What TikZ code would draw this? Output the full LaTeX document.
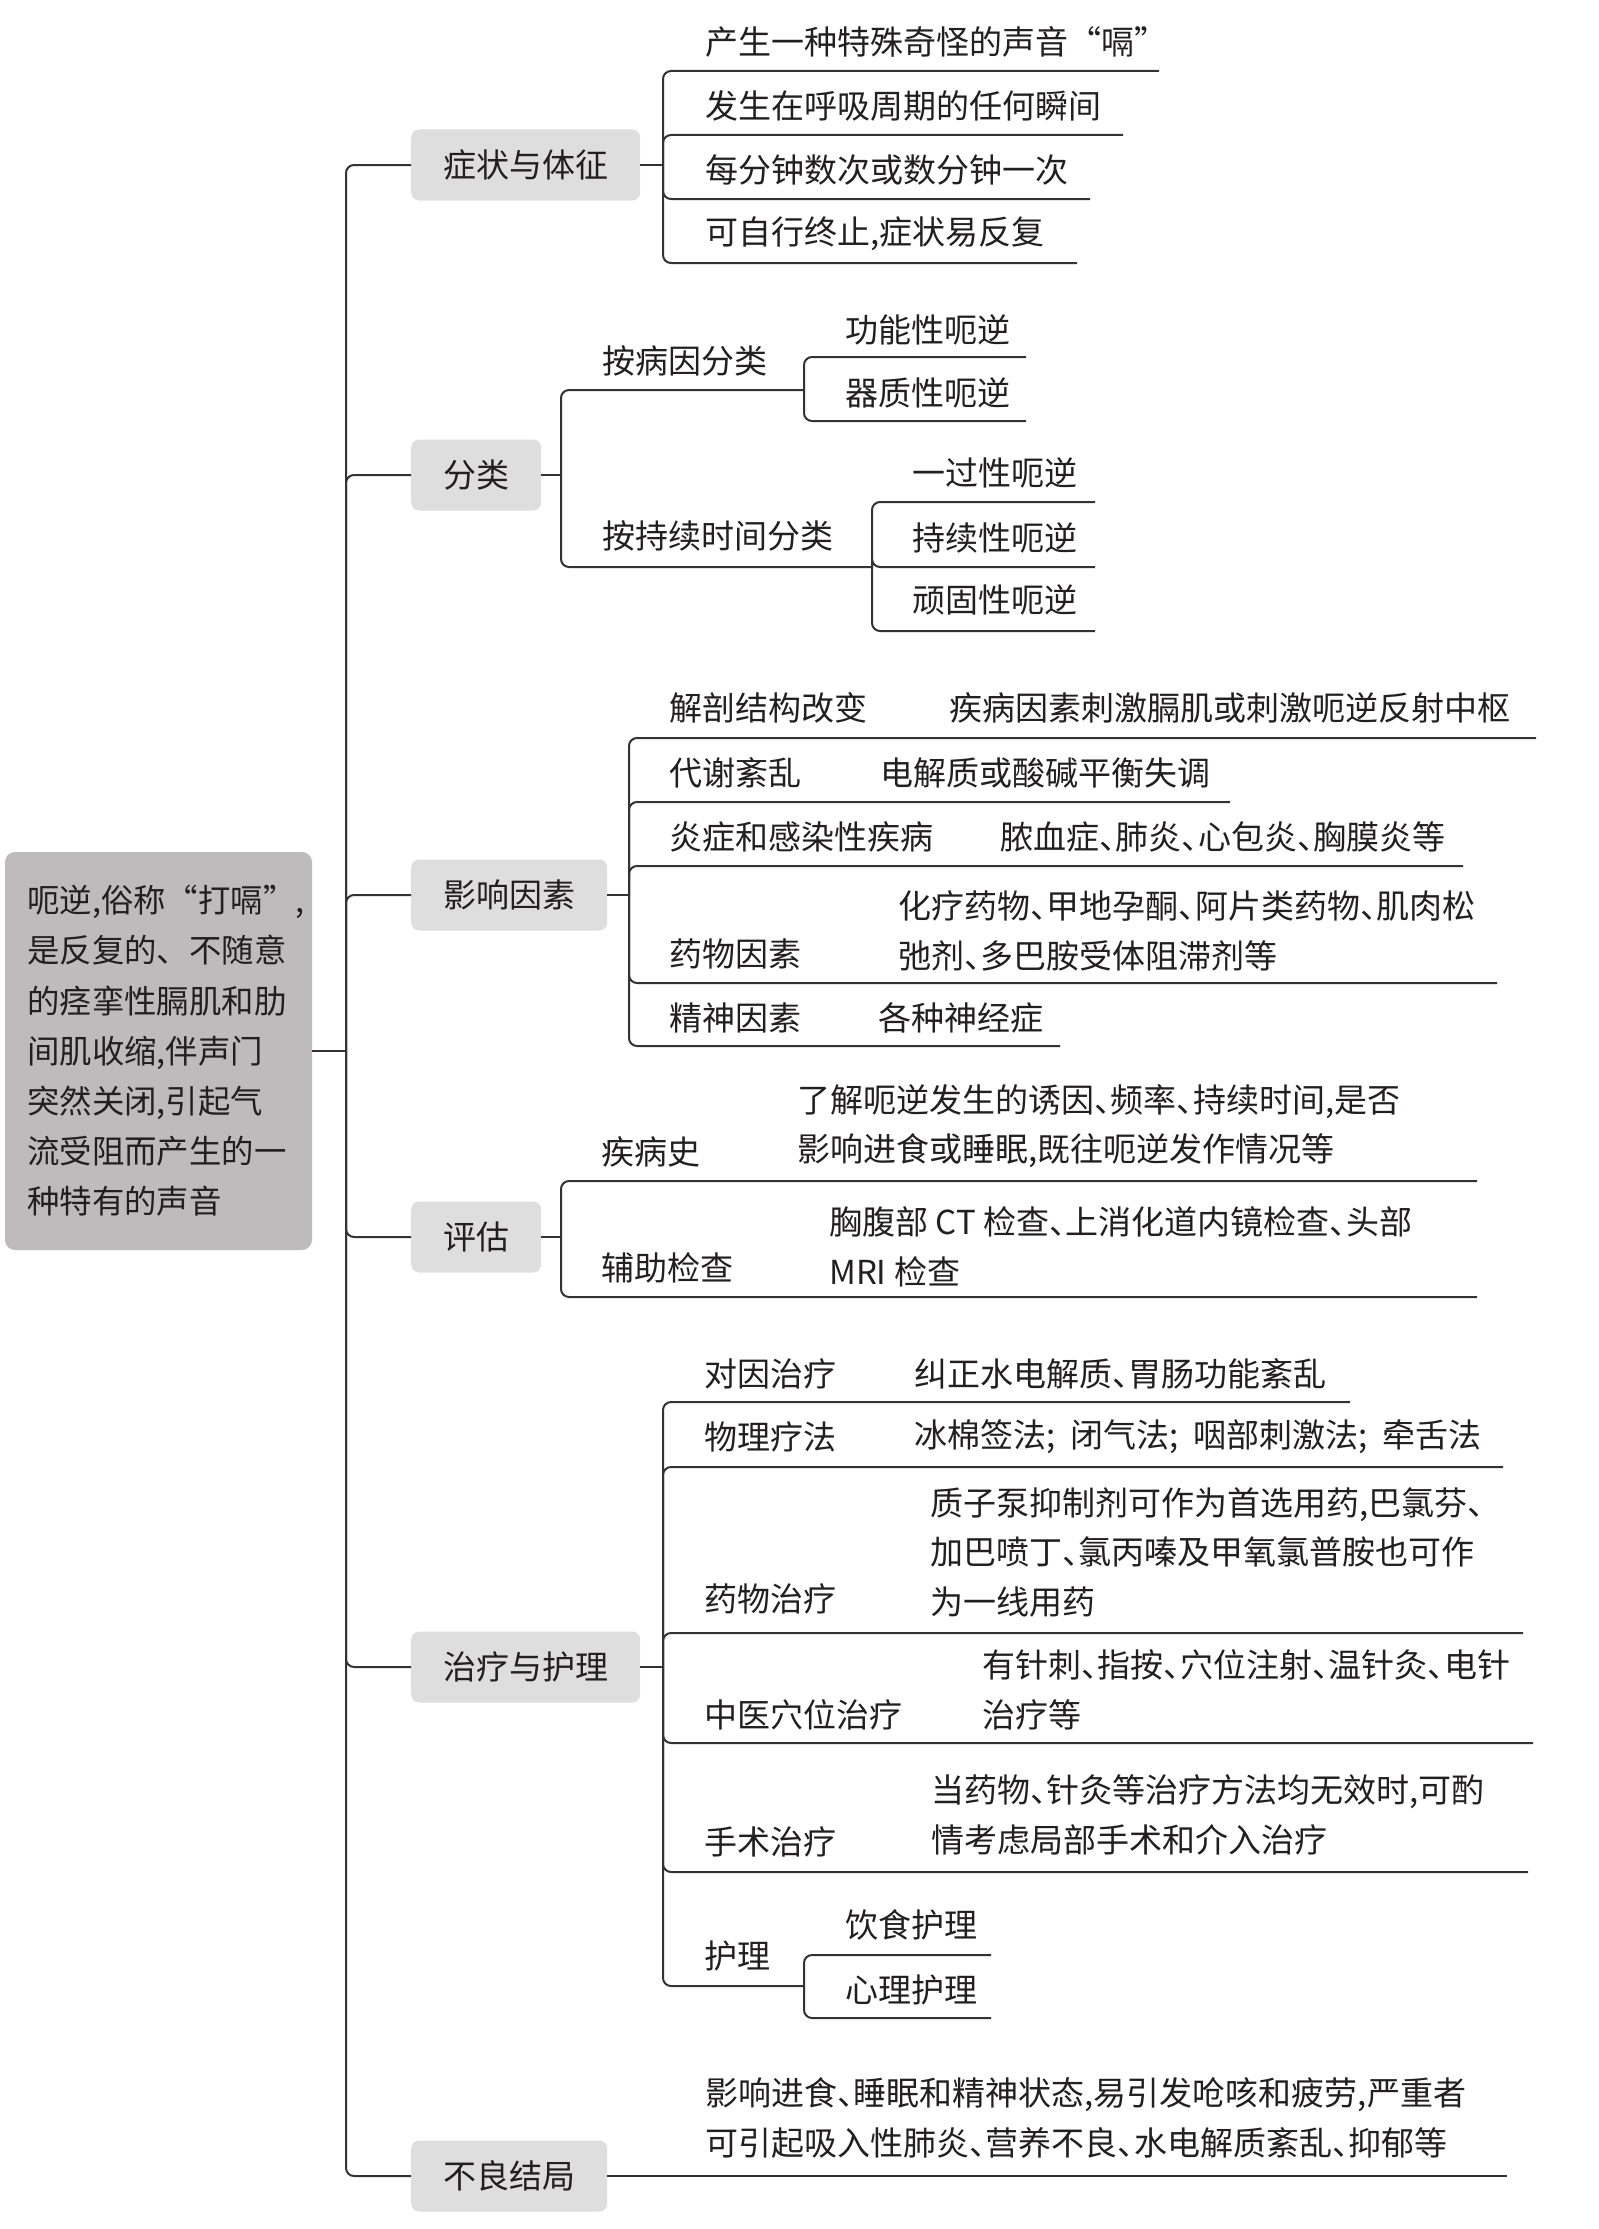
\documentclass[tikz,border=0pt]{standalone}
\usepackage{fontspec}
\newfontfamily\cjk{Noto Sans CJK SC}
\newcommand{\dn}{\makebox[0.5em][l]{、}}
\definecolor{boxgray}{HTML}{DEDEDE}
\definecolor{rootgray}{HTML}{BDBBBC}
\definecolor{lc}{HTML}{333333}
\definecolor{tc}{HTML}{231F20}
\begin{document}
\begin{tikzpicture}[x=1pt,y=-1pt,
  conn/.style={draw=lc,line width=2pt,rounded corners=8pt},
  topic/.style={fill=boxgray,rounded corners=8pt,minimum height=71pt,inner xsep=32pt,inner ysep=0pt,anchor=west,text=tc,font=\cjk\fontsize{33}{40}\selectfont},
  rootbox/.style={fill=rootgray,rounded corners=10pt,minimum width=307pt,minimum height=398pt,inner sep=0pt,text=tc},
  txt/.style={anchor=west,inner sep=0pt,text=tc,font=\cjk\fontsize{33}{49.5}\selectfont,align=left}]
\useasboundingbox (0,0) rectangle (1598,2229);

% ---------- root ----------
\node[rootbox] (root) at (158.5,1051) {};
\node[anchor=west,inner sep=0pt,text=tc,align=left,font=\cjk\fontsize{32.4}{50.2}\selectfont] (roottext) at (27,1051) {呃逆,俗称“打嗝”,\\是反复的、不随意\\的痉挛性膈肌和肋\\间肌收缩,伴声门\\突然关闭,引起气\\流受阻而产生的一\\种特有的声音};

% ---------- main topics ----------
\node[topic] (b1) at (411,165) {症状与体征};
\node[topic] (b2) at (411,475) {分类};
\node[topic] (b3) at (411,895) {影响因素};
\node[topic] (b4) at (411,1237) {评估};
\node[topic] (b5) at (411,1667) {治疗与护理};
\node[topic] (b6) at (411,2176) {不良结局};

\coordinate (sp) at (346,1051);
\draw[conn] (root.east) -- (sp);
\foreach \b in {b1,b2,b3,b4,b5,b6}{
  \draw[conn] (sp) -- (sp |- \b.west) -- (\b.west);
}

% ---------- 症状与体征 ----------
\coordinate (k1) at (663,165);
\draw[conn] (b1.east) -- (k1);
\node[txt] (s1) at (705,42) {产生一种特殊奇怪的声音“嗝”};
\node[txt] (s2) at (705,106) {发生在呼吸周期的任何瞬间};
\node[txt] (s3) at (705,170) {每分钟数次或数分钟一次};
\node[txt] (s4) at (705,234) {可自行终止,症状易反复};
\coordinate (s1e) at (1159,71);
\coordinate (s2e) at (1123,135);
\coordinate (s3e) at (1090,199);
\coordinate (s4e) at (1077,263);
\foreach \c in {s1e,s2e,s3e,s4e}{
  \draw[conn] (k1) -- (k1 |- \c) -- (\c);
}

% ---------- 分类 ----------
\coordinate (k2) at (561,475);
\draw[conn] (b2.east) -- (k2);
\node[txt] (f1) at (602,361) {按病因分类};
\node[txt] (f2) at (602,536) {按持续时间分类};
\coordinate (f1e) at (804,390);
\coordinate (f2e) at (872,567);
\foreach \c in {f1e,f2e}{
  \draw[conn] (k2) -- (k2 |- \c) -- (\c);
}
\node[txt] (f11) at (845,330) {功能性呃逆};
\node[txt] (f12) at (845,393) {器质性呃逆};
\coordinate (f11e) at (1026,357);
\coordinate (f12e) at (1026,421);
\foreach \c in {f11e,f12e}{
  \draw[conn] (f1e) -- (f1e |- \c) -- (\c);
}
\node[txt] (f21) at (912,473) {一过性呃逆};
\node[txt] (f22) at (912,538) {持续性呃逆};
\node[txt] (f23) at (912,600) {顽固性呃逆};
\coordinate (f21e) at (1095,502);
\coordinate (f22e) at (1095,567);
\coordinate (f23e) at (1095,631);
\foreach \c in {f21e,f22e,f23e}{
  \draw[conn] (f2e) -- (f2e |- \c) -- (\c);
}

% ---------- 影响因素 ----------
\coordinate (k3) at (629,895);
\draw[conn] (b3.east) -- (k3);
\node[txt] (y1) at (669,708) {解剖结构改变};
\node[txt] (y1d) at (949,708) {疾病因素刺激膈肌或刺激呃逆反射中枢};
\node[txt] (y2) at (669,773) {代谢紊乱};
\node[txt] (y2d) at (880,773) {电解质或酸碱平衡失调};
\node[txt] (y3) at (669,837) {炎症和感染性疾病};
\node[txt] (y3d) at (1000,837) {脓血症\dn 肺炎\dn 心包炎\dn 胸膜炎等};
\node[txt] (y4) at (669,954) {药物因素};
\node[txt] (y4d) at (898,931) {化疗药物\dn 甲地孕酮\dn 阿片类药物\dn 肌肉松\\弛剂\dn 多巴胺受体阻滞剂等};
\node[txt] (y5) at (669,1018) {精神因素};
\node[txt] (y5d) at (878,1018) {各种神经症};
\coordinate (y1e) at (1536,738);
\coordinate (y2e) at (1230,802);
\coordinate (y3e) at (1463,866);
\coordinate (y4e) at (1497,983);
\coordinate (y5e) at (1060,1046);
\foreach \c in {y1e,y2e,y3e,y4e,y5e}{
  \draw[conn] (k3) -- (k3 |- \c) -- (\c);
}

% ---------- 评估 ----------
\coordinate (k4) at (561,1237);
\draw[conn] (b4.east) -- (k4);
\node[txt] (p1) at (601,1152) {疾病史};
\node[txt] (p1d) at (797,1126) {了解呃逆发生的诱因\dn 频率\dn 持续时间,是否\\影响进食或睡眠,既往呃逆发作情况等};
\node[txt] (p2) at (601,1268) {辅助检查};
\node[txt] (p2d) at (829,1247) {胸腹部 CT 检查\dn 上消化道内镜检查\dn 头部\\MRI 检查};
\coordinate (p1e) at (1477,1181);
\coordinate (p2e) at (1477,1297);
\foreach \c in {p1e,p2e}{
  \draw[conn] (k4) -- (k4 |- \c) -- (\c);
}

% ---------- 治疗与护理 ----------
\coordinate (k5) at (663,1667);
\draw[conn] (b5.east) -- (k5);
\node[txt] (z1) at (704,1374) {对因治疗};
\node[txt] (z1d) at (914,1374) {纠正水电解质\dn 胃肠功能紊乱};
\node[txt] (z2) at (704,1437) {物理疗法};
\node[txt] (z2d) at (914,1437) {冰棉签法;\hspace{0.45em}闭气法;\hspace{0.45em}咽部刺激法;\hspace{0.45em}牵舌法};
\node[txt] (z3) at (704,1599) {药物治疗};
\node[txt] (z3d) at (930,1552) {质子泵抑制剂可作为首选用药,巴氯芬\dn \\加巴喷丁\dn 氯丙嗪及甲氧氯普胺也可作\\为一线用药};
\node[txt] (z4) at (704,1715) {中医穴位治疗};
\node[txt] (z4d) at (982,1690) {有针刺\dn 指按\dn 穴位注射\dn 温针灸\dn 电针\\治疗等};
\node[txt] (z5) at (704,1842) {手术治疗};
\node[txt] (z5d) at (931,1815) {当药物\dn 针灸等治疗方法均无效时,可酌\\情考虑局部手术和介入治疗};
\node[txt] (z6) at (704,1956) {护理};
\coordinate (z1e) at (1350,1402);
\coordinate (z2e) at (1503,1467);
\coordinate (z3e) at (1523,1633);
\coordinate (z4e) at (1533,1743);
\coordinate (z5e) at (1528,1872);
\coordinate (z6e) at (804,1986);
\foreach \c in {z1e,z2e,z3e,z4e,z5e,z6e}{
  \draw[conn] (k5) -- (k5 |- \c) -- (\c);
}
\node[txt] (z61) at (845,1925) {饮食护理};
\node[txt] (z62) at (845,1990) {心理护理};
\coordinate (z61e) at (991,1955);
\coordinate (z62e) at (991,2018);
\foreach \c in {z61e,z62e}{
  \draw[conn] (z6e) -- (z6e |- \c) -- (\c);
}

% ---------- 不良结局 ----------
\node[txt] (r1d) at (705,2118) {影响进食\dn 睡眠和精神状态,易引发呛咳和疲劳,严重者\\可引起吸入性肺炎\dn 营养不良\dn 水电解质紊乱\dn 抑郁等};
\coordinate (r1e) at (1507,2176);
\draw[conn] (b6.east) -- (r1e);
\end{tikzpicture}
\end{document}
